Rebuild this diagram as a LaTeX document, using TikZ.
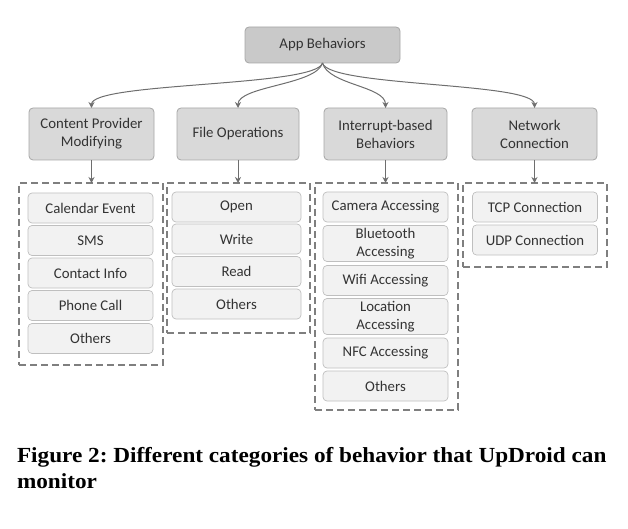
\documentclass[tikz,border=0pt]{standalone}
\usepackage{fontspec}
\setmainfont{Carlito}
\newfontfamily\capfont[FakeStretch=1.08]{Liberation Serif}
\usetikzlibrary{arrows.meta}
\definecolor{topfill}{HTML}{C9C9C9}
\definecolor{catfill}{HTML}{D9D9D9}
\definecolor{itemfill}{HTML}{F2F2F2}
\definecolor{boxline}{HTML}{A6A6A6}
\definecolor{itemline}{HTML}{BFBFBF}
\definecolor{dashline}{HTML}{7F7F7F}
\definecolor{arrowcol}{HTML}{6E6E6E}
\begin{document}
\begin{tikzpicture}[x=1pt,y=-1pt,
  every node/.style={inner sep=0pt,outer sep=0pt},
  base/.style={draw, rounded corners=4pt, align=center, font=\fontsize{14.8}{18}\selectfont, text=black!80},
  topbox/.style={base, fill=topfill, draw=boxline, line width=0.8pt, minimum width=155pt, minimum height=36pt},
  catbox/.style={base, fill=catfill, draw=boxline, line width=0.8pt, minimum width=125pt, minimum height=52pt},
  itembox/.style={base, fill=itemfill, draw=itemline, line width=0.7pt, minimum width=125pt, minimum height=30pt},
  tallitem/.style={itembox, minimum height=36pt},
  groupbox/.style={draw=dashline, line width=1.4pt, dash pattern=on 7pt off 4pt},
  conn/.style={draw=arrowcol, line width=1pt, -{Stealth[length=6pt,width=6pt]}}
]
\useasboundingbox (0,0) rectangle (628,529);

% top
\node[topbox] (app) at (322.5,45) {App Behaviors};

% categories
\node[catbox] (cpm) at (91.5,134) {Content Provider\\Modifying};
\node[catbox, minimum width=122pt] (fo) at (238,134) {File Operations};
\node[catbox, minimum width=123pt] (ib) at (385.5,134) {Interrupt-based\\Behaviors};
\node[catbox] (nc) at (534.5,134) {Network\\Connection};

% group frames
\node[groupbox, minimum width=144pt, minimum height=182pt] (g1) at (91,274) {};
\node[groupbox, minimum width=143pt, minimum height=150pt] (g2) at (238.5,258) {};
\node[groupbox, minimum width=143pt, minimum height=227pt] (g3) at (386.5,296.5) {};
\node[groupbox, minimum width=144pt, minimum height=84pt] (g4) at (535,225) {};

% group 1 items
\node[itembox] (i11) at (90.5,208) {Calendar Event};
\node[itembox] (i12) at (90.5,240.5) {SMS};
\node[itembox] (i13) at (90.5,273) {Contact Info};
\node[itembox] (i14) at (90.5,305.5) {Phone Call};
\node[itembox] (i15) at (90.5,338.5) {Others};

% group 2 items
\node[itembox, minimum width=129pt] (i21) at (236.5,207) {Open};
\node[itembox, minimum width=129pt] (i22) at (236.5,239) {Write};
\node[itembox, minimum width=129pt] (i23) at (236.5,271.5) {Read};
\node[itembox, minimum width=129pt] (i24) at (236.5,304) {Others};

% group 3 items
\node[itembox] (i31) at (385.5,207) {Camera Accessing};
\node[tallitem] (i32) at (385.5,243.5) {Bluetooth\\Accessing};
\node[itembox] (i33) at (385.5,280.5) {Wifi Accessing};
\node[tallitem] (i34) at (385.5,316.5) {Location\\Accessing};
\node[itembox] (i35) at (385.5,353) {NFC Accessing};
\node[itembox] (i36) at (385.5,386) {Others};

% group 4 items
\node[itembox] (i41) at (535,207) {TCP Connection};
\node[itembox] (i42) at (535,240) {UDP Connection};

% curved connectors from top
\draw[conn] (app.south) .. controls +(-6,24) and +(0,-26) .. (cpm.north);
\draw[conn] (app.south) .. controls +(-6,22) and +(0,-22) .. (fo.north);
\draw[conn] (app.south) .. controls +(6,22) and +(0,-22) .. (ib.north);
\draw[conn] (app.south) .. controls +(6,24) and +(0,-26) .. (nc.north);

% straight connectors down
\draw[conn] (cpm.south) -- (g1.north -| cpm.south);
\draw[conn] (fo.south) -- (g2.north -| fo.south);
\draw[conn] (ib.south) -- (g3.north -| ib.south);
\draw[conn] (nc.south) -- (g4.north -| nc.south);

% caption
\node[anchor=base west, align=left, font=\capfont\bfseries\fontsize{21.5}{26}\selectfont\frenchspacing] (cap) at (17,488) {Figure 2: Different categories of behavior that UpDroid can\\monitor};
\end{tikzpicture}
\end{document}
